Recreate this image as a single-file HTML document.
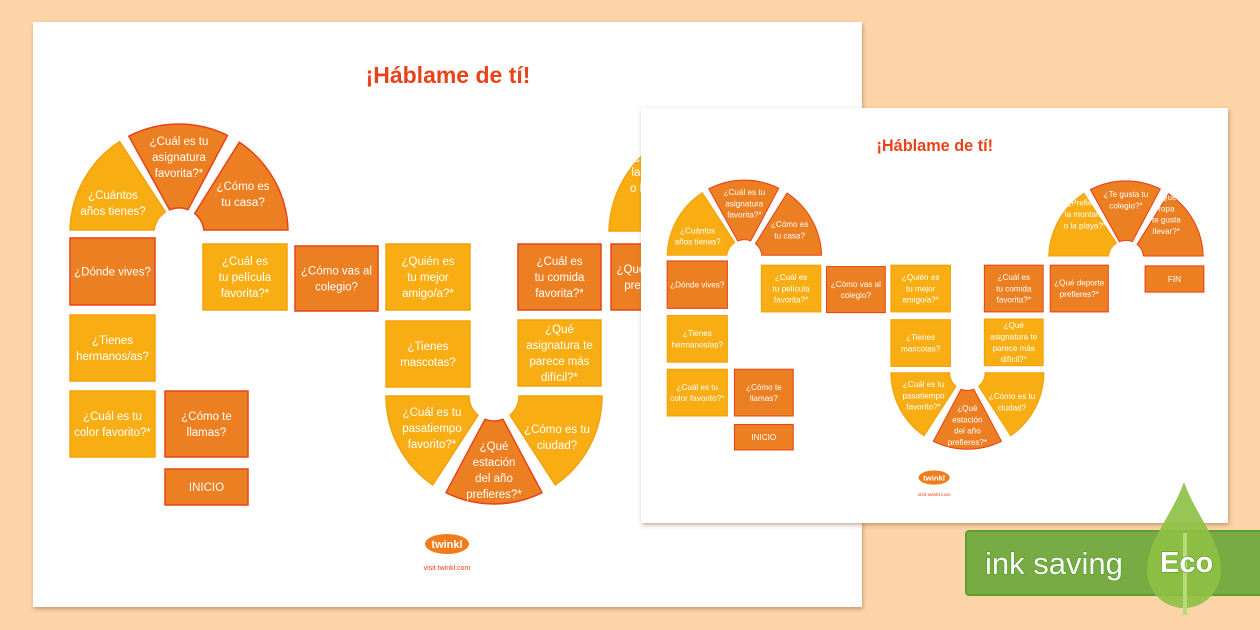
<!DOCTYPE html>
<html><head><meta charset="utf-8"><style>
html,body{margin:0;padding:0;width:1260px;height:630px;overflow:hidden;background:#FDD4A8}
svg{display:block}
text{font-family:"Liberation Sans",sans-serif}
</style></head><body>
<svg id="s" width="1260" height="630" viewBox="0 0 1260 630" xmlns="http://www.w3.org/2000/svg">
<defs>
<filter id="sh" x="-5%" y="-5%" width="110%" height="110%"><feDropShadow dx="1" dy="2" stdDeviation="2" flood-color="#8a5a30" flood-opacity="0.5"/></filter>
</defs>
<rect width="1260" height="630" fill="#FDD4A8"/>
<rect x="33" y="22" width="829" height="585" fill="#fff" filter="url(#sh)"/>
<g id="board"></g>
<rect x="641" y="108" width="587" height="415" fill="#fff" filter="url(#sh)"/>
<g id="small" transform="translate(641,108) scale(0.708) translate(-33,-22)"></g>
<rect x="966" y="531" width="300" height="64" rx="3" fill="#78AB44" stroke="#5E9E2E" stroke-width="2"/>
<text x="985" y="574" font-size="31" fill="#fff" stroke="#4f9a22" stroke-width="1.2" paint-order="stroke">ink saving</text>
<path d="M1184,482 C1170,520 1147,540 1147,570 C1147,592 1164,608 1184,608 C1204,608 1221,592 1221,570 C1221,540 1198,520 1184,482 Z" fill="#8DC043" opacity="0.9"/>
<rect x="1183" y="533" width="4" height="82" fill="#B6DB78"/>
<text x="1160" y="572" font-size="29" font-weight="bold" fill="#fff" stroke="#5a9a2a" stroke-width="1.2" paint-order="stroke">Eco</text>
</svg>
<script>
var NS="http://www.w3.org/2000/svg";
var L="#F8AE12",LB="#F2A20A",D="#EC7F22",DB="#E8431A";
var rects=[
[70,238,85,67,1,["¿Dónde vives?"]],
[70,315,85,66,0,["¿Tienes","hermanos/as?"]],
[70,391,85,66,0,["¿Cuál es tu","color favorito?*"]],
[165,391,83,66,1,["¿Cómo te","llamas?"]],
[165,469,83,36,1,["INICIO"]],
[203,244,84,66,0,["¿Cuál es","tu película","favorita?*"]],
[295,246,83,65,1,["¿Cómo vas al","colegio?"]],
[386,244,84,66,0,["¿Quién es","tu mejor","amigo/a?*"]],
[386,321,84,66,0,["¿Tienes","mascotas?"]],
[518,244,83,66,1,["¿Cuál es","tu comida","favorita?*"]],
[518,320,83,66,0,["¿Qué","asignatura te","parece más","difícil?*"]],
[611,244,82,66,1,["¿Qué deporte","prefieres?*"]],
[745,245,83,37,1,["FIN"]]
];
var secs=[
[179,233,109,25,123,180,0,113,203,["¿Cuántos","años tienes?"]],
[179,233,109,25,62,119,1,179,157,["¿Cuál es tu","asignatura","favorita?*"]],
[179,233,109,25,0,58,1,243,194,["¿Cómo es","tu casa?"]],
[494,396,108,25,-180,-123,0,432,428,["¿Cuál es tu","pasatiempo","favorito?*"]],
[494,396,108,25,-118,-62,1,494,470,["¿Qué","estación","del año","prefieres?*"]],
[494,396,108,25,-57,0,0,557,437,["¿Cómo es tu","ciudad?"]],
[718,234,109,25,123,180,0,660,172,["¿Prefieres","la montaña","o la playa?*"]],
[718,234,109,25,62,119,1,718,152,["¿Te gusta tu","colegio?*"]],
[718,234,109,25,0,58,1,775,172,["¿Qué","ropa","te gusta","llevar?*"]]
];
function el(t,a,p){var e=document.createElementNS(NS,t);for(var k in a)e.setAttribute(k,a[k]);p.appendChild(e);return e;}
function txt(g,x,y,lines){var lh=16,y0=y-(lines.length-1)*lh/2+4;
 lines.forEach(function(s,i){var t=el("text",{x:x,y:y0+i*lh,"text-anchor":"middle","font-size":"11.5",fill:"#fff"},g);t.textContent=s;});}
function P(cx,cy,r,a){a=a*Math.PI/180;return (cx+r*Math.cos(a)).toFixed(1)+","+(cy-r*Math.sin(a)).toFixed(1);}
function build(g){
 rects.forEach(function(r){el("rect",{x:r[0],y:r[1],width:r[2],height:r[3],fill:r[4]?D:L,stroke:r[4]?DB:LB,"stroke-width":1.5},g);txt(g,r[0]+r[2]/2,r[1]+r[3]/2,r[5]);});
 secs.forEach(function(s){var cx=s[0],cy=s[1],R=s[2],r=s[3],a1=s[4],a2=s[5];
  var go=(3/R)*180/Math.PI,gi=(3/r)*180/Math.PI;
  if(a1==-180||a1==180)go=0,gi=0;
  var b1=a1+go,c1=a1+gi,b2=a2-(a2==0?0:(3/R)*180/Math.PI),c2=a2-(a2==0?0:(3/r)*180/Math.PI);
  if(a1==123||a1==-180){b1=a1;c1=a1;}
  var d="M"+P(cx,cy,R,b1)+" A"+R+","+R+" 0 0 0 "+P(cx,cy,R,b2)+" L"+P(cx,cy,r,c2)+" A"+r+","+r+" 0 0 1 "+P(cx,cy,r,c1)+" Z";
  if(a1<0) d="M"+P(cx,cy,R,b1)+" A"+R+","+R+" 0 0 0 "+P(cx,cy,R,b2)+" L"+P(cx,cy,r,c2)+" A"+r+","+r+" 0 0 1 "+P(cx,cy,r,c1)+" Z";
  el("path",{d:d,fill:s[6]?D:L,stroke:s[6]?DB:LB,"stroke-width":1.5},g);
  txt(g,s[7],s[8],s[9]);});
 var t=el("text",{x:448,y:83,"text-anchor":"middle","font-size":"23","font-weight":"bold",fill:"#E8431A"},g);t.textContent="¡Háblame de tí!";
 el("ellipse",{cx:447,cy:544,rx:22,ry:10,fill:"#F07C1C"},g);
 var t2=el("text",{x:447,y:548,"text-anchor":"middle","font-size":"11","font-weight":"bold",fill:"#fff"},g);t2.textContent="twinkl";
 var t3=el("text",{x:447,y:570,"text-anchor":"middle","font-size":"7",fill:"#E8431A"},g);t3.textContent="visit twinkl.com";
}
build(document.getElementById("board"));
build(document.getElementById("small"));
</script>
</body></html>
